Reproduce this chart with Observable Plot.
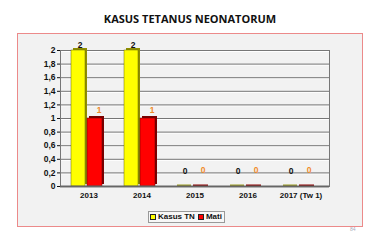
<!DOCTYPE html>
<html>
<head>
<meta charset="utf-8">
<script src="https://cdn.jsdelivr.net/npm/d3@7"></script>
<script src="https://cdn.jsdelivr.net/npm/@observablehq/plot@0.6"></script>
<style>
  html, body { margin: 0; padding: 0; background: #fff; }
  #wrap { position: relative; width: 380px; height: 241px; overflow: hidden; font-family: "Liberation Sans", Arial, sans-serif; }
  #title { position: absolute; left: 0; width: 380px; top: 11px; text-align: center; font-family: "Open Sans", sans-serif; font-weight: 700; font-size: 11px; color: #111; }
  #box { position: absolute; left: 17px; top: 33px; width: 344px; height: 192px; border: 1px solid #ec8a8a; background: #f2f2f2; box-sizing: content-box; }
  #chart { position: absolute; left: 0; top: 0; }
  #legend { position: absolute; left: 148px; top: 211px; height: 10px; padding: 0 2px 0 1px; border: 1px solid #999; background: #f7f7f7; font-weight: 700; font-size: 8px; line-height: 10px; display: flex; align-items: center; gap: 2px; white-space: nowrap; color: #111; }
  .sw { display: inline-block; width: 4px; height: 4px; border: 1px solid #222; }
  #page { position: absolute; left: 350px; top: 226px; font-size: 5px; color: #aab; }
</style>
</head>
<body>
<div id="wrap">
  <div id="title">KASUS TETANUS NEONATORUM</div>
  <div id="box"></div>
  <div id="chart"></div>
  <div id="legend"><span class="sw" style="background:#ffff00"></span>Kasus TN <span class="sw" style="background:#ff0000;margin-left:1px"></span>Mati</div>
  <div id="page">84</div>
</div>
<script>
const years = ["2013", "2014", "2015", "2016", "2017 (Tw 1)"];
const kasusTN = [2, 2, 0, 0, 0];
const mati = [1, 1, 0, 0, 0];
const yTicks = [0, 0.2, 0.4, 0.6, 0.8, 1, 1.2, 1.4, 1.6, 1.8, 2];

const kData = years.map((y, i) => ({year: y, value: kasusTN[i]}));
const mData = years.map((y, i) => ({year: y, value: mati[i]}));
const fmt = d => String(d).replace(".", ",");

const kIn = {insetLeft: 9, insetRight: 30};
const mIn = {insetLeft: 25, insetRight: 13};

const chart = Plot.plot({
  width: 380,
  height: 241,
  marginLeft: 60,
  marginRight: 51,
  marginTop: 50,
  marginBottom: 55,
  style: {background: "transparent", fontFamily: "Liberation Sans, Arial, sans-serif", color: "#111"},
  x: {domain: years, padding: 0},
  y: {domain: [0, 2], ticks: yTicks},
  marks: [
    Plot.gridY(yTicks, {stroke: "#fff", strokeOpacity: 1, strokeWidth: 1, dy: 1}),
    Plot.gridY(yTicks, {stroke: "#555", strokeOpacity: 1, strokeWidth: 0.8}),
    Plot.frame({stroke: "#777", strokeWidth: 1}),
    // zero-height bar tops
    Plot.tickY(kData, {x: "year", y: 0, ...kIn, stroke: "#9a9a20", strokeWidth: 2, dy: -1}),
    Plot.tickY(mData, {x: "year", y: 0, ...mIn, stroke: "#8a0000", strokeWidth: 2, dy: -1}),
    // 3D sides
    Plot.barY(kData, {x: "year", y: "value", ...kIn, fill: "#8f8f00", dx: 2, dy: -2}),
    Plot.barY(mData, {x: "year", y: "value", ...mIn, fill: "#7a0000", dx: 2, dy: -2}),
    // front faces
    Plot.barY(kData, {x: "year", y: "value", ...kIn, fill: "#ffff00", stroke: "#6b6b00", strokeWidth: 0.5}),
    Plot.barY(mData, {x: "year", y: "value", ...mIn, fill: "#ff0000", stroke: "#600000", strokeWidth: 0.5}),
    Plot.ruleY([0], {stroke: "#666", strokeWidth: 2}),
    // value labels
    Plot.text(kData, {filter: d => d.value > 0, x: "year", y: "value", text: d => fmt(d.value), dx: -9, dy: -5, fill: "#111", fontWeight: "bold", fontSize: 8.5}),
    Plot.text(kData, {filter: d => d.value === 0, x: "year", y: "value", text: d => fmt(d.value), dx: -10, dy: -15, fill: "#111", fontWeight: "bold", fontSize: 8.5}),
    Plot.text(mData, {filter: d => d.value > 0, x: "year", y: "value", text: d => fmt(d.value), dx: 10, dy: -8, fill: "#f08a2a", fontWeight: "bold", fontSize: 8.5}),
    Plot.text(mData, {filter: d => d.value === 0, x: "year", y: "value", text: d => fmt(d.value), dx: 8, dy: -16, fill: "#f08a2a", fontWeight: "bold", fontSize: 8.5}),
    Plot.axisY({ticks: yTicks, tickFormat: fmt, tickSize: 3, tickPadding: 2, fontWeight: "bold", fontSize: 8.5, label: null}),
    Plot.axisX({tickSize: 0, tickPadding: 6, fontWeight: "bold", fontSize: 8, label: null})
  ]
});
document.getElementById("chart").appendChild(chart);
</script>
</body>
</html>
